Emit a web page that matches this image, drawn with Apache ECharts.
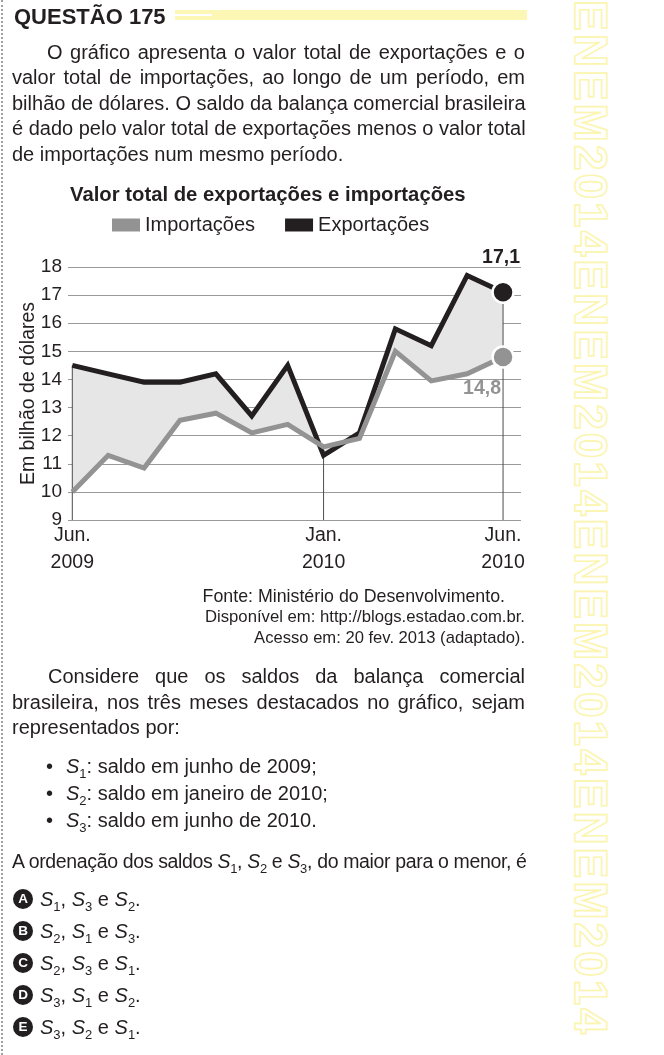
<!DOCTYPE html>
<html lang="pt-BR">
<head>
<meta charset="utf-8">
<title>Questão 175</title>
<script src="https://cdn.jsdelivr.net/npm/echarts@6/dist/echarts.min.js"></script>
<style>
html,body{margin:0;padding:0;background:#fff;}
body{width:664px;height:1055px;position:relative;overflow:hidden;font-family:"Liberation Sans",Arial,sans-serif;color:#231f20;}
#chart{position:absolute;left:0;top:0;width:664px;height:1055px;z-index:1;}
.t{position:absolute;z-index:2;white-space:nowrap;}
.p{position:absolute;z-index:2;font-size:20px;line-height:25.5px;}
.p div{white-space:nowrap;}
.j{text-align:justify;text-align-last:justify;}
sub{font-size:13px;vertical-align:-5px;line-height:0;}
i{font-style:italic;}
.src{position:absolute;z-index:2;left:0;width:525px;text-align:right;white-space:nowrap;}
.bul{position:absolute;z-index:2;left:46px;font-size:20px;line-height:27px;white-space:nowrap;}
.bul span.b{display:inline-block;width:20px;}
.opt{position:absolute;z-index:2;left:13px;font-size:20px;line-height:26px;white-space:nowrap;padding-left:27px;}
.opt .c{position:absolute;left:0;top:3px;width:20px;height:20px;border-radius:50%;background:#231f20;color:#fff;font-weight:bold;font-size:13.5px;line-height:20px;text-align:center;}
#deco{position:absolute;left:566px;top:0;width:52px;height:1055px;overflow:hidden;z-index:0;}
#deco div{writing-mode:vertical-rl;font:bold 46px "Liberation Sans",Arial,sans-serif;color:#fff;-webkit-text-stroke:1.6px #fbf5b0;letter-spacing:3px;line-height:50px;white-space:nowrap;}
#dash{position:absolute;left:1px;top:0;height:1055px;border-left:2px dotted #a0a0a0;z-index:2;}
</style>
</head>
<body>
<div id="dash"></div>
<div id="deco"><div>ENEM2014ENEM2014ENEM2014ENEM2014</div></div>

<div class="t" style="left:14px;top:5px;font-size:22px;font-weight:bold;line-height:24px;">QUESTÃO 175</div>
<div style="position:absolute;left:175px;top:10px;width:352px;height:10px;background:#fcf7b4;z-index:2;"></div>
<div style="position:absolute;left:175px;top:14px;width:37px;height:1.5px;background:#fff;z-index:2;"></div>

<div class="p" style="left:12px;top:39.5px;width:513px;">
  <div class="j" style="margin-left:35px;width:478px;">O gráfico apresenta o valor total de exportações e o</div>
  <div class="j" style="width:513px;">valor total de importações, ao longo de um período, em</div>
  <div class="j" style="width:513px;">bilhão de dólares. O saldo da balança comercial brasileira</div>
  <div class="j" style="width:513px;">é dado pelo valor total de exportações menos o valor total</div>
  <div>de importações num mesmo período.</div>
</div>

<div id="chart"></div>

<div class="src" style="top:585.5px;font-size:17.8px;line-height:21px;"><span style="margin-right:20px;">Fonte: Ministério do Desenvolvimento.</span></div>
<div class="src" style="top:607px;font-size:16.7px;line-height:20px;">Disponível em: http://blogs.estadao.com.br.</div>
<div class="src" style="top:628px;font-size:16.6px;line-height:20px;">Acesso em: 20 fev. 2013 (adaptado).</div>

<div class="p" style="left:12px;top:664px;width:513px;">
  <div class="j" style="margin-left:36px;width:477px;">Considere que os saldos da balança comercial</div>
  <div class="j" style="width:513px;">brasileira, nos três meses destacados no gráfico, sejam</div>
  <div>representados por:</div>
</div>

<div class="bul" style="top:752.5px;"><span class="b">•</span><i>S</i><sub>1</sub>: saldo em junho de 2009;</div>
<div class="bul" style="top:779.5px;"><span class="b">•</span><i>S</i><sub>2</sub>: saldo em janeiro de 2010;</div>
<div class="bul" style="top:806.5px;"><span class="b">•</span><i>S</i><sub>3</sub>: saldo em junho de 2010.</div>

<div class="t" style="left:12px;top:848px;font-size:19.5px;line-height:26px;letter-spacing:-0.35px;">A ordenação dos saldos <i>S</i><sub>1</sub>, <i>S</i><sub>2</sub> e <i>S</i><sub>3</sub>, do maior para o menor, é</div>

<div class="opt" style="top:886px;"><span class="c">A</span><i>S</i><sub>1</sub>, <i>S</i><sub>3</sub> e <i>S</i><sub>2</sub>.</div>
<div class="opt" style="top:918px;"><span class="c">B</span><i>S</i><sub>2</sub>, <i>S</i><sub>1</sub> e <i>S</i><sub>3</sub>.</div>
<div class="opt" style="top:950px;"><span class="c">C</span><i>S</i><sub>2</sub>, <i>S</i><sub>3</sub> e <i>S</i><sub>1</sub>.</div>
<div class="opt" style="top:982px;"><span class="c">D</span><i>S</i><sub>3</sub>, <i>S</i><sub>1</sub> e <i>S</i><sub>2</sub>.</div>
<div class="opt" style="top:1014px;"><span class="c">E</span><i>S</i><sub>3</sub>, <i>S</i><sub>2</sub> e <i>S</i><sub>1</sub>.</div>

<script>
// ---- data ----
const months = ['jun/2009','jul/2009','ago/2009','set/2009','out/2009','nov/2009','dez/2009',
                'jan/2010','fev/2010','mar/2010','abr/2010','mai/2010','jun/2010'];
const exportacoes = [14.5, 14.2, 13.9, 13.9, 14.2, 12.7, 14.5, 11.3, 12.1, 15.8, 15.2, 17.7, 17.1];
const importacoes = [10.0, 11.3, 10.85, 12.55, 12.8, 12.1, 12.4, 11.6, 11.9, 15.0, 13.95, 14.2, 14.8];
const destaqueIdx = [0, 7, 12];
const xTickLabels = ['Jun.\n2009', 'Jan.\n2010', 'Jun.\n2010'];
const yMin = 9, yMax = 18, yStep = 1;

// ---- chart ----
const FONT = '"Liberation Sans", Arial, sans-serif';
const INK = '#231f20', GRAY = '#939393';
const pts = arr => arr.map((v, i) => [i, v]);
const fmt = v => String(v).replace('.', ',');
const last = months.length - 1;

const chart = echarts.init(document.getElementById('chart'), null, {renderer: 'canvas'});
chart.setOption({
  animation: false,
  backgroundColor: 'transparent',
  textStyle: {fontFamily: FONT},
  title: {
    text: 'Valor total de exportações e importações',
    left: 70, top: 184, padding: 0,
    textStyle: {fontSize: 20.3, fontWeight: 'bold', color: INK, fontFamily: FONT, lineHeight: 22}
  },
  legend: {
    data: ['Importações', 'Exportações'],
    left: 112, top: 214, padding: 0,
    icon: 'rect', itemWidth: 28, itemHeight: 13, itemGap: 30,
    itemStyle: {borderWidth: 0},
    textStyle: {fontSize: 20, color: INK, fontFamily: FONT, lineHeight: 22}
  },
  grid: {left: 68, top: 267, width: 453, height: 253},
  xAxis: {
    type: 'value', min: -0.12, max: 12.5,
    axisLine: {show: false}, axisTick: {show: false}, splitLine: {show: false},
    axisLabel: {
      customValues: destaqueIdx,
      formatter: v => xTickLabels[destaqueIdx.indexOf(v)] || '',
      fontSize: 19.5, lineHeight: 27, margin: 2, color: INK, fontFamily: FONT
    }
  },
  yAxis: {
    type: 'value', min: yMin, max: yMax, interval: yStep,
    name: 'Em bilhão de dólares', nameLocation: 'middle', nameGap: 29,
    nameMoveOverlap: false,
    nameTextStyle: {fontSize: 19.5, color: INK, fontFamily: FONT},
    axisLine: {show: false}, axisTick: {show: false},
    axisLabel: {fontSize: 19, color: INK, margin: 6, fontFamily: FONT},
    splitLine: {lineStyle: {color: '#9a9a9a', width: 1}}
  },
  series: [
    { // area between the two series
      type: 'custom', name: 'saldo', z: 1, silent: true, clip: false,
      data: [[0, yMin]],
      renderItem: (params, api) => {
        const top = exportacoes.map((v, i) => api.coord([i, v]));
        const bot = importacoes.map((v, i) => api.coord([i, v])).reverse();
        return {type: 'polygon', shape: {points: top.concat(bot)}, style: {fill: '#e6e6e6'}};
      }
    },
    { // vertical guide lines at highlighted months
      type: 'custom', name: 'destaques', z: 3, silent: true, clip: false,
      data: destaqueIdx.map(i => [i, yMin, exportacoes[i]]),
      encode: {x: 0, y: [1, 2]},
      renderItem: (params, api) => {
        const x = api.value(0);
        const p0 = api.coord([x, api.value(1)]);
        const p1 = api.coord([x, api.value(2)]);
        return {type: 'line', shape: {x1: p0[0], y1: p0[1], x2: p1[0], y2: p1[1]},
                style: {stroke: '#4d4d4d', lineWidth: 1}};
      }
    },
    {
      name: 'Exportações', type: 'line', z: 4, silent: true,
      data: pts(exportacoes), symbol: 'none',
      itemStyle: {color: INK},
      lineStyle: {color: INK, width: 5, join: 'miter'}
    },
    {
      name: 'Importações', type: 'line', z: 5, silent: true,
      data: pts(importacoes), symbol: 'none',
      itemStyle: {color: GRAY},
      lineStyle: {color: GRAY, width: 5, join: 'miter'}
    },
    {
      name: 'exp-destaque', type: 'scatter', z: 6, silent: true,
      data: [[last, exportacoes[last]]], symbol: 'circle', symbolSize: 21,
      itemStyle: {color: INK, borderColor: '#fff', borderWidth: 2.5, opacity: 1},
      label: {show: true, position: 'top', distance: 13, offset: [-2, 0],
              formatter: p => fmt(p.value[1]), fontSize: 19.5, fontWeight: 'bold', color: INK, fontFamily: FONT}
    },
    {
      name: 'imp-destaque', type: 'scatter', z: 6, silent: true,
      data: [[last, importacoes[last]]], symbol: 'circle', symbolSize: 21,
      itemStyle: {color: GRAY, borderColor: '#fff', borderWidth: 2.5, opacity: 1},
      label: {show: true, position: 'bottom', distance: 10, offset: [-21, 0],
              formatter: p => fmt(p.value[1]), fontSize: 19.5, fontWeight: 'bold', color: GRAY, fontFamily: FONT}
    }
  ]
});
</script>
</body>
</html>
